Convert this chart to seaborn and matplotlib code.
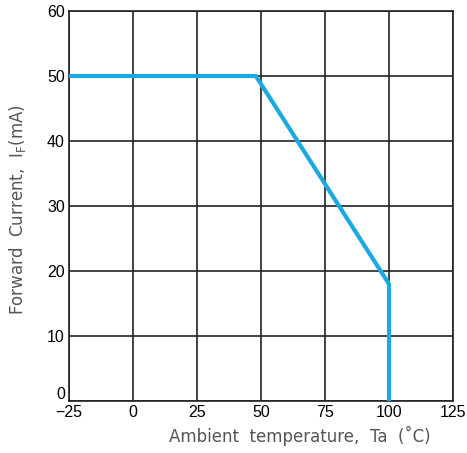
import matplotlib
matplotlib.use('Agg')
import matplotlib.pyplot as plt
import matplotlib.transforms as mtransforms
import seaborn as sns
import pandas as pd

# derating curve
temp = [-25, 48, 100, 100]
current = [50, 50, 18, 0]

x_ticks = [-25, 0, 25, 50, 75, 100, 125]
y_ticks = [0, 10, 20, 30, 40, 50, 60]

df = pd.DataFrame({'temp': temp, 'current': current})

sns.set_style('white')
plt.rcParams['font.family'] = ['DejaVu Sans']

fig = plt.figure(figsize=(4.67, 4.53), dpi=100)
ax = fig.add_axes([0.1478, 0.1148, 0.8222, 0.8609])

sns.lineplot(data=df, x='temp', y='current', sort=False, estimator=None,
             ax=ax, color='#1ba9e1', linewidth=3, zorder=3)

ax.set_xlim(-25, 125)
ax.set_ylim(0, 60)
ax.set_xticks(x_ticks)
ax.set_yticks(y_ticks)
ax.set_xticklabels(['\u221225'] + [str(t) for t in x_ticks[1:]])
ax.grid(True, color='#222222', linewidth=1.2)
for s in ax.spines.values():
    s.set_color('#222222')
    s.set_linewidth(1.2)
ax.tick_params(axis='both', length=0, labelsize=11.5, pad=3, colors='#000000')
for lab in ax.get_xticklabels() + ax.get_yticklabels():
    lab.set_fontfamily('Liberation Sans')
    lab.set_fontweight('medium')

# the 0 label on y sits a little above the corner
ylab0 = ax.get_yticklabels()[0]
ylab0.set_transform(ylab0.get_transform() + mtransforms.ScaledTranslation(0, 6 / 72, fig.dpi_scale_trans))

ax.set_xlabel('Ambient  temperature,  Ta  (\u02daC)', color='#555555', fontsize=12)
ax.xaxis.set_label_coords(0.6, -0.065)
ax.set_ylabel('Forward  Current,  I$_\\mathregular{F}$(mA)', color='#555555', fontsize=12)
ax.yaxis.set_label_coords(-0.108, 0.49)

fig.savefig('out.png', dpi=100)
